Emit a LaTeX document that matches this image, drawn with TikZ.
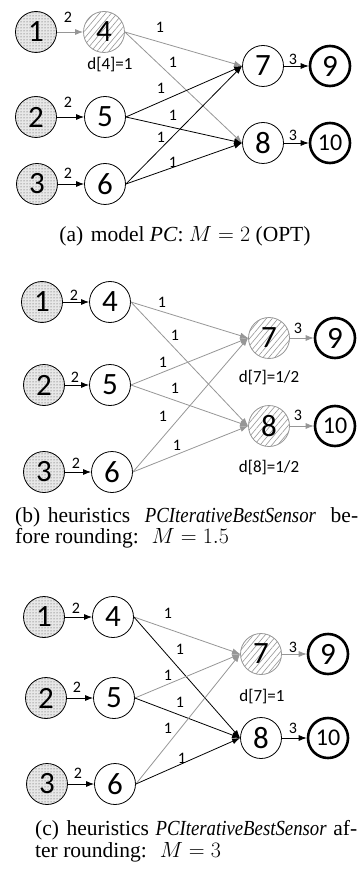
\documentclass[tikz,border=0pt]{standalone}
\usepackage{fontspec}
\setmainfont{Liberation Serif}
\newfontfamily\nodefont{Carlito}
\usetikzlibrary{arrows.meta,patterns,patterns.meta}
\definecolor{eg}{RGB}{150,150,150}
\newcommand{\capmath}[1]{\scalebox{1.06}{$#1$}}
\newcommand{\pcibs}{\resizebox{171pt}{\height}{\textit{PCIterativeBestSensor}}}
\begin{document}
\begin{tikzpicture}[x=1pt,y=-1pt,
  nd/.style={circle, draw=black, line width=0.8pt, minimum size=41pt, inner sep=0pt, font=\nodefont\fontsize{31}{31}\selectfont},
  src/.style={nd, fill=gray!18, postaction={pattern=dots, pattern color=black!75}},
  hat/.style={nd, draw=eg, postaction={pattern={Lines[angle=50,distance=4.5pt,line width=0.6pt]}, pattern color=eg}},
  snk/.style={nd, line width=2.6pt, minimum size=40pt},
  ten/.style={font=\nodefont\fontsize{24}{24}\selectfont},
  blk/.style={-{Latex[length=8pt,width=6pt]}, line width=0.8pt, draw=black},
  gry/.style={-{Latex[length=8pt,width=6pt]}, line width=0.8pt, draw=eg},
  lab/.style={font=\nodefont\fontsize{16}{16}\selectfont, inner sep=0pt},
  dlab/.style={font=\nodefont\fontsize{17}{17}\selectfont, inner sep=0pt},
  captxt/.style={font=\fontsize{21.5}{20}\selectfont, inner sep=0pt, text height=14pt, text depth=4pt, anchor=base west}]
\useasboundingbox (0,0) rectangle (358,874);

% ---------------- panel (a) ----------------
\node[src] (a1) at (36,32) {1};
\node[hat] (a4) at (104,32) {4};
\node[src] (a2) at (36,117) {2};
\node[nd]  (a5) at (105,117) {5};
\node[src] (a3) at (37,184) {3};
\node[nd]  (a6) at (105,184) {6};
\node[nd]  (a7) at (263,66) {7};
\node[nd]  (a8) at (263,143) {8};
\node[snk] (a9) at (330,66) {9};
\node[snk,ten] (a10) at (330,143) {10};
\draw[gry] (a1.east) -- (a4.west);
\draw[blk] (a2.east) -- (a5.west);
\draw[blk] (a3.east) -- (a6.west);
\draw[gry] (a4.east) -- (a7.west);
\draw[gry] (a4.east) -- (a8.west);
\draw[blk] (a5.east) -- (a7.west);
\draw[blk] (a5.east) -- (a8.west);
\draw[blk] (a6.east) -- (a7.west);
\draw[blk] (a6.east) -- (a8.west);
\draw[blk] (a7.east) -- (a9.west);
\draw[blk] (a8.east) -- (a10.west);
\node[lab] (la1) at (68,17) {2};
\node[lab] (la2) at (68,102) {2};
\node[lab] (la3) at (68,173) {2};
\node[lab] (la4) at (160,27) {1};
\node[lab] (la5) at (173,62) {1};
\node[lab] (la6) at (161,88) {1};
\node[lab] (la7) at (173,115) {1};
\node[lab] (la8) at (161,137) {1};
\node[lab] (la9) at (173,162) {1};
\node[lab] (la10) at (293,59) {3};
\node[lab] (la11) at (293,135) {3};
\node[dlab] (da4) at (110,65) {d[4]=1};
\node[captxt, anchor=base] (capa) at (185,242) {(a)\hspace{0.35em}model \textit{PC}: \capmath{M=2} (OPT)};

% ---------------- panel (b) ----------------
\node[src] (b1) at (42,302) {1};
\node[nd]  (b4) at (110,302) {4};
\node[src] (b2) at (44,385) {2};
\node[nd]  (b5) at (110,385) {5};
\node[src] (b3) at (44,472) {3};
\node[nd]  (b6) at (112,472) {6};
\node[hat] (b7) at (269,338) {7};
\node[hat] (b8) at (269,426) {8};
\node[snk] (b9) at (335,338) {9};
\node[snk,ten] (b10) at (335,426) {10};
\draw[blk] (b1.east) -- (b4.west);
\draw[blk] (b2.east) -- (b5.west);
\draw[blk] (b3.east) -- (b6.west);
\draw[gry] (b4.east) -- (b7.west);
\draw[gry] (b4.east) -- (b8.west);
\draw[gry] (b5.east) -- (b7.west);
\draw[gry] (b5.east) -- (b8.west);
\draw[gry] (b6.east) -- (b7.west);
\draw[gry] (b6.east) -- (b8.west);
\draw[gry] (b7.east) -- (b9.west);
\draw[gry] (b8.east) -- (b10.west);
\node[lab] (lb1) at (74,295) {2};
\node[lab] (lb2) at (75,377) {2};
\node[lab] (lb3) at (76,463) {2};
\node[lab] (lb4) at (162,302) {1};
\node[lab] (lb5) at (175,335) {1};
\node[lab] (lb6) at (163,362) {1};
\node[lab] (lb7) at (175,388) {1};
\node[lab] (lb8) at (163,416) {1};
\node[lab] (lb9) at (177,445) {1};
\node[lab] (lb10) at (298,328) {3};
\node[lab] (lb11) at (298,415) {3};
\node[dlab] (db7) at (269,378) {d[7]=1/2};
\node[dlab] (db8) at (269,468) {d[8]=1/2};
\node[captxt] (capb1) at (15,522) {\makebox[343pt][s]{(b)\hspace{0.35em}heuristics \pcibs{} be-}};
\node[captxt] (capb2) at (15,543) {fore rounding:\hspace{0.6em}\capmath{M=1.5}};

% ---------------- panel (c) ----------------
\node[src] (c1) at (44,617) {1};
\node[nd]  (c4) at (113,617) {4};
\node[src] (c2) at (46,698) {2};
\node[nd]  (c5) at (114,698) {5};
\node[src] (c3) at (47,784) {3};
\node[nd]  (c6) at (115,784) {6};
\node[hat] (c7) at (261,654) {7};
\node[nd]  (c8) at (261,738) {8};
\node[snk] (c9) at (328,654) {9};
\node[snk,ten] (c10) at (328,738) {10};
\draw[blk] (c1.east) -- (c4.west);
\draw[blk] (c2.east) -- (c5.west);
\draw[blk] (c3.east) -- (c6.west);
\draw[gry] (c4.east) -- (c7.west);
\draw[blk] (c4.east) -- (c8.west);
\draw[gry] (c5.east) -- (c7.west);
\draw[blk] (c5.east) -- (c8.west);
\draw[gry] (c6.east) -- (c7.west);
\draw[blk] (c6.east) -- (c8.west);
\draw[gry] (c7.east) -- (c9.west);
\draw[blk] (c8.east) -- (c10.west);
\node[lab] (lc1) at (76,608) {2};
\node[lab] (lc2) at (77,687) {2};
\node[lab] (lc3) at (78,773) {2};
\node[lab] (lc4) at (168,613) {1};
\node[lab] (lc5) at (180,649) {1};
\node[lab] (lc6) at (168,675) {1};
\node[lab] (lc7) at (180,702) {1};
\node[lab] (lc8) at (168,728) {1};
\node[lab] (lc9) at (182,758) {1};
\node[lab] (lc10) at (293,647) {3};
\node[lab] (lc11) at (293,728) {3};
\node[dlab] (dc7) at (262,697) {d[7]=1};
\node[captxt] (capc1) at (35,835) {\makebox[322pt][s]{(c)\hspace{0.35em}heuristics \pcibs{} af-}};
\node[captxt] (capc2) at (35,857) {ter rounding:\hspace{0.6em}\capmath{M=3}};
\end{tikzpicture}
\end{document}
